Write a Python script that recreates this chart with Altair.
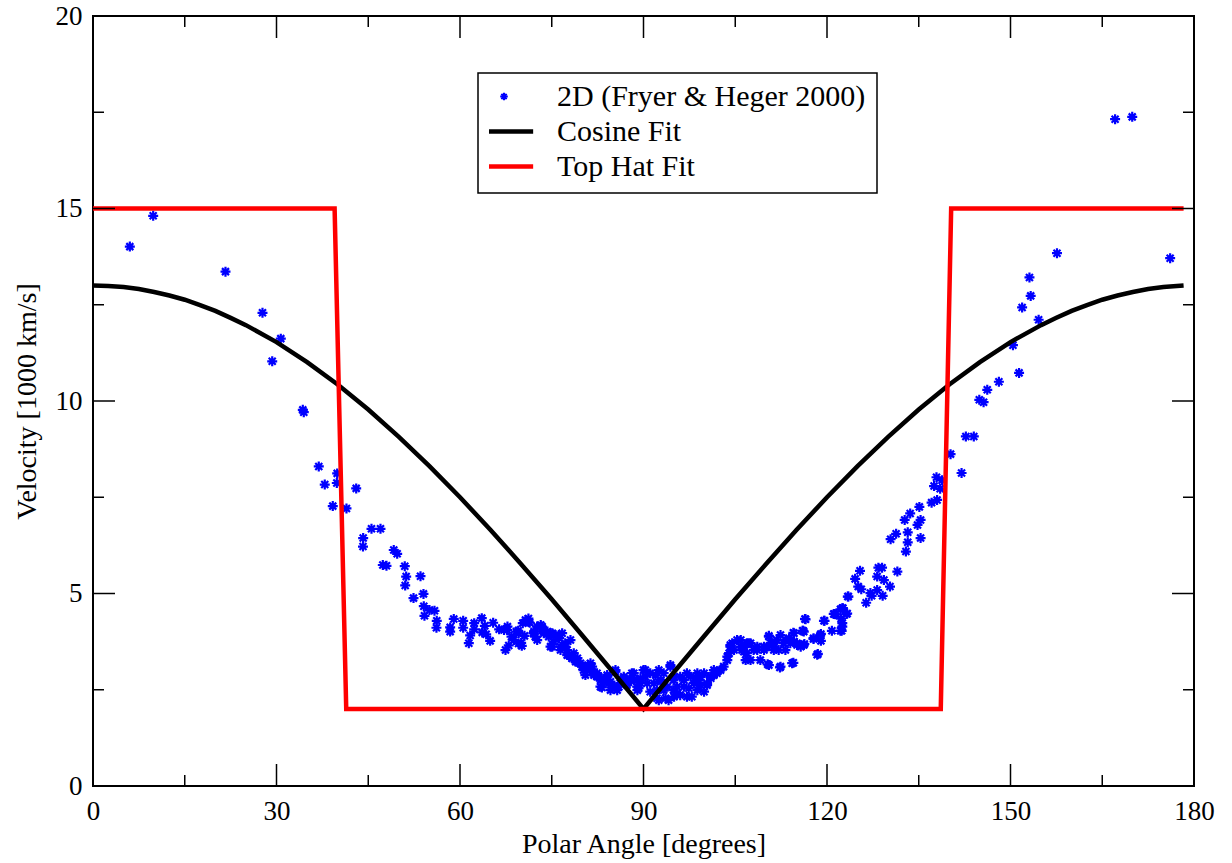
import altair as alt
import pandas as pd

# ---------------- data ----------------
SCATTER_ANGLE = [
    6.02, 9.84, 21.66, 27.71, 29.30, 30.70, 34.30, 34.46, 36.91, 37.89, 39.20, 39.86, 39.92, 41.44, 43.03,
    44.14, 44.17, 45.53, 47.00, 47.38, 47.98, 49.17, 49.73, 50.97, 51.04, 51.20, 52.40, 53.54, 54.03, 54.08,
    54.19, 55.01, 55.83, 56.15, 56.20, 58.39, 58.39, 58.98, 60.52, 60.52, 61.44, 61.66, 62.32, 62.32, 63.56,
    63.63, 64.05, 64.28, 64.93, 65.42, 66.40, 67.2, 67.44, 67.71, 67.76, 67.97, 68.42, 68.8, 69.2, 69.51,
    69.56, 69.6, 70.0, 70.10, 70.26, 70.54, 70.7, 71.19, 71.24, 71.4,
    72.01, 72.1, 72.3, 72.6, 72.62, 73.2, 73.43, 73.4, 73.70, 73.7, 74.3, 74.5, 74.79, 74.8, 75.07,
    75.1, 75.3, 75.6, 76.15, 76.2, 76.43, 76.4, 76.7, 77.24, 77.2, 77.52, 77.5, 77.8, 78.06, 78.34,
    78.3, 78.6, 78.9, 79.16, 79.2, 79.7, 79.97, 80.0, 80.2, 80.5, 80.79, 80.9, 81.3, 81.33, 81.6,
    81.6, 81.87, 81.9, 82.4, 82.4, 82.69, 82.96, 83.0, 83.2, 83.5, 83.5, 84.06, 84.1, 84.3, 84.6,
    84.6, 85.2, 85.42, 85.4, 85.7, 85.96, 86.2, 86.77, 86.8, 87.3, 87.3, 87.87, 87.9, 88.1, 88.41,
    88.4, 88.96, 88.96, 89.0, 89.2, 89.5, 89.5,
    90.0, 90.3, 90.3, 90.6, 91.1, 91.1, 91.7, 92.0, 92.2, 92.2, 92.5, 92.5, 92.8, 92.8, 93.3,
    93.3, 93.6, 93.9, 94.1, 94.4, 94.4, 94.9, 94.9, 95.0, 95.0, 95.5, 95.5, 96.0, 96.0, 96.6,
    96.6, 97.1, 97.1, 97.4, 97.7, 97.9, 98.2, 98.5, 98.8, 98.8, 99.0, 99.3, 99.3, 99.9, 99.9,
    100.4, 100.4, 100.9, 101.0, 101.5, 101.5, 102.0, 102.0, 102.6, 103.1, 103.7, 103.7, 104.0, 104.2, 104.2,
    104.5, 104.8, 105.3, 105.9, 105.9, 106.1, 106.4, 106.4, 106.7, 106.9, 106.9,
    107.2, 107.5, 107.5, 108.0, 108.6, 108.6, 109.1, 109.7, 109.7, 110.2, 110.3, 110.5, 110.5, 110.5, 110.8,
    111.3, 111.3, 111.3, 111.8, 112.1, 112.3, 112.4, 112.4, 112.9, 113.2, 113.2, 113.8, 114.0, 114.3, 114.5,
    114.5, 114.6, 114.6, 115.1, 115.1, 115.7, 116.0, 116.1, 116.2, 116.2, 116.3, 116.4, 116.5, 117.8, 117.8,
    118.4, 118.5, 118.9, 119.0, 119.0, 119.5, 119.6, 120.8, 121.1, 121.2, 121.4, 122.2, 122.2, 122.3, 122.4,
    122.5, 122.5, 122.5, 122.6, 123.2, 123.3, 123.4, 123.5,
    124.6, 125.1, 125.4, 125.6, 126.4, 127.1, 127.3, 128.2, 128.2, 128.4, 129.0, 129.1, 129.3, 130.3, 130.4,
    131.3, 131.5, 132.7, 132.9, 133.2, 133.2, 133.6, 134.8, 135.1, 135.3, 135.3, 137.1, 137.5, 137.9, 138.0,
    138.5, 138.8, 140.2, 142.0, 142.7, 144.0, 144.9, 145.6, 146.2, 148.1, 150.4, 151.4, 151.9, 153.1, 153.3,
    154.6, 157.6, 167.1, 169.9, 176.1,
]
SCATTER_VELOCITY = [
    14.01, 14.81, 13.36, 12.29, 11.03, 11.62, 9.77, 9.71, 8.30, 7.83, 7.27, 7.87, 8.12, 7.21, 7.73,
    6.22, 6.44, 6.68, 6.68, 5.74, 5.72, 6.13, 6.03, 5.71, 5.21, 5.44, 4.88, 5.45, 4.99, 4.67,
    4.42, 4.57, 4.55, 4.11, 4.29, 4.12, 4.01, 4.34, 4.29, 4.11, 3.71, 3.91, 4.23, 4.07, 4.36,
    3.99, 4.16, 3.94, 3.77, 4.24, 4.07, 4.05, 3.53, 4.05, 4.14, 3.65, 3.88, 3.79, 4.01, 4.03,
    3.70, 3.97, 3.72, 3.64, 4.23, 3.90, 4.31, 4.35, 4.26, 4.24,
    3.97, 4.01, 3.88, 4.14, 3.79, 4.18, 4.14, 4.10, 4.01, 3.97, 4.01, 3.88, 3.97, 3.62, 3.62,
    3.97, 3.75, 3.92, 3.92, 3.84, 3.53, 3.62, 3.97, 3.62, 3.71, 3.40, 3.53, 3.40, 3.79, 3.32,
    3.32, 3.45, 3.23, 3.23, 3.32, 3.19, 3.10, 3.10, 3.01, 2.88, 3.01, 3.14, 3.10, 3.19, 2.97,
    3.10, 2.93, 2.88, 2.84, 2.93, 2.84, 2.58, 2.75, 2.56, 2.75, 2.71, 2.88, 2.84, 2.67, 2.71,
    2.49, 2.58, 3.01, 2.97, 2.49, 2.58, 2.67, 2.84, 2.80, 2.62, 2.67, 2.75, 2.75, 2.93, 2.93,
    2.75, 2.58, 2.75, 2.49, 2.54, 2.67, 2.80,
    3.01, 2.84, 3.01, 2.67, 2.93, 2.45, 2.67, 2.88, 2.49, 2.28, 2.23, 3.01, 2.75, 2.71, 2.93,
    2.49, 2.28, 2.58, 2.23, 3.10, 3.14, 2.75, 2.49, 2.84, 2.32, 2.41, 2.58, 2.84, 2.36, 2.58,
    2.75, 2.32, 2.93, 2.54, 2.84, 2.32, 2.67, 2.80, 2.49, 2.93, 2.75, 2.84, 2.62, 2.93, 2.45,
    2.67, 2.62, 2.84, 2.80, 3.01, 2.88, 2.93, 2.97, 3.01, 3.10, 3.36, 3.27, 3.45, 3.62, 3.66,
    3.71, 3.53, 3.79, 3.79, 3.62, 3.53, 3.49, 3.62, 3.27, 3.71, 3.45,
    3.71, 3.27, 3.71, 3.53, 3.53, 3.62, 3.27, 3.62, 3.53, 3.62, 3.16, 3.88, 3.14, 3.90, 3.71,
    3.62, 3.71, 3.53, 3.79, 3.53, 3.08, 3.92, 3.10, 3.71, 3.79, 3.53, 3.84, 3.71, 3.19, 3.98,
    3.20, 3.75, 3.97, 3.71, 3.66, 3.62, 4.03, 4.03, 4.01, 3.66, 3.69, 4.34, 4.33, 3.82, 3.84,
    3.41, 3.43, 3.92, 3.95, 3.77, 4.29, 4.29, 4.03, 4.47, 4.47, 4.46, 4.59, 4.03, 4.35, 4.03,
    4.23, 4.62, 4.14, 4.62, 4.47, 4.48, 4.92, 4.92,
    5.38, 5.18, 5.59, 5.11, 4.76, 5.01, 4.94, 5.44, 5.09, 5.67, 5.67, 4.94, 5.35, 5.18, 6.41,
    6.55, 5.57, 6.91, 6.09, 6.59, 6.33, 7.08, 6.78, 7.25, 6.91, 6.44, 7.36, 7.79, 8.02, 7.43,
    7.72, 7.94, 8.62, 8.13, 9.08, 9.08, 10.03, 9.97, 10.29, 10.50, 11.45, 10.73, 12.43, 13.21, 12.73,
    12.11, 13.84, 17.32, 17.38, 13.71,
]

COS_ANGLE = [0, 2.5, 5, 7.5, 10, 12.5, 15, 17.5, 20, 22.5, 25, 30, 35, 40, 45, 50, 55, 60, 65, 70, 75,
             80, 85, 90, 95, 100, 105, 110, 115, 120, 125, 130, 135, 140, 145, 150, 155, 157.5, 160,
             162.5, 165, 167.5, 170, 172.5, 175, 178.3]
COS_VELOCITY = [13.00, 12.99, 12.96, 12.91, 12.83, 12.74, 12.63, 12.49, 12.34, 12.16, 11.97, 11.53,
                11.01, 10.43, 9.78, 9.07, 8.31, 7.50, 6.65, 5.76, 4.85, 3.91, 2.96, 2.00, 2.96, 3.91,
                4.85, 5.76, 6.65, 7.50, 8.31, 9.07, 9.78, 10.43, 11.01, 11.53, 11.97, 12.16, 12.34,
                12.49, 12.63, 12.74, 12.83, 12.91, 12.96, 13.00]

HAT_ANGLE = [0, 39.5, 41.4, 138.6, 140.3, 178.3]
HAT_VELOCITY = [15, 15, 2, 2, 15, 15]

SERIES = ["2D (Fryer & Heger 2000)", "Cosine Fit", "Top Hat Fit"]
COLORS = ["#0000ff", "#000000", "#ff0000"]

X_MAJOR = [0, 30, 60, 90, 120, 150, 180]
X_MINOR = [15, 45, 75, 105, 135, 165]
Y_MAJOR = [0, 5, 10, 15, 20]
Y_MINOR = [2.5, 7.5, 12.5, 17.5]

# ---------------- layout / style ----------------
W, H = 1101, 770
FONT = "Liberation Serif, Times New Roman, Times, DejaVu Serif, serif"
MAJ, MIN = 22, 11
STAR = "M-1,0L1,0M0,-1L0,1M-0.7,-0.7L0.7,0.7M-0.7,0.7L0.7,-0.7"
STAR_LEG = "M-0.13,0L0.13,0M0,-0.13L0,0.13M-0.09,-0.09L0.09,0.09M-0.09,0.09L0.09,-0.09"

scatter_df = pd.DataFrame({"angle": SCATTER_ANGLE, "velocity": SCATTER_VELOCITY, "series": SERIES[0]})
cos_df = pd.DataFrame({"angle": COS_ANGLE, "velocity": COS_VELOCITY, "series": SERIES[1]})
hat_df = pd.DataFrame({"angle": HAT_ANGLE, "velocity": HAT_VELOCITY, "series": SERIES[2]})

xscale = alt.Scale(domain=[0, 180], nice=False, zero=False)
yscale = alt.Scale(domain=[0, 20], nice=False, zero=False)

test = "datum.value === '" + SERIES[0] + "'"
legend = alt.Legend(
    orient="none", legendX=385, legendY=57, title=None, direction="vertical",
    labelFont=FONT, labelFontSize=30, labelColor="black", labelLimit=600,
    symbolSize=3400,
    symbolType={"expr": test + " ? '" + STAR_LEG + "' : 'stroke'"},
    symbolStrokeWidth={"expr": test + " ? 2 : 4.5"},
    clipHeight=25, rowPadding=4, labelOffset=38, padding=11,
    strokeColor="black", fillColor="white",
)
color = alt.Color("series:N", scale=alt.Scale(domain=SERIES, range=COLORS), legend=legend)

xaxis = alt.Axis(values=X_MAJOR, title="Polar Angle [degrees]", ticks=False, domain=False, grid=False,
                 labelFont=FONT, labelFontSize=27, labelColor="black", labelPadding=12, labelFlush=False,
                 titleFont=FONT, titleFontSize=28, titleFontWeight="normal", titleColor="black", titlePadding=6)
yaxis = alt.Axis(values=Y_MAJOR, title="Velocity [1000 km/s]", ticks=False, domain=False, grid=False,
                 labelFont=FONT, labelFontSize=27, labelColor="black", labelPadding=11, labelFlush=False,
                 titleFont=FONT, titleFontSize=28, titleFontWeight="normal", titleColor="black", titlePadding=14)

X = alt.X("angle:Q", scale=xscale, axis=xaxis)
Y = alt.Y("velocity:Q", scale=yscale, axis=yaxis)

points = alt.Chart(scatter_df).mark_point(shape=STAR, size=100, filled=False, strokeWidth=2.2, opacity=1).encode(
    x=X, y=Y, color=color,
)
cos_line = alt.Chart(cos_df).mark_line(strokeWidth=4.5).encode(x=X, y=Y, color=color)
hat_line = alt.Chart(hat_df).mark_line(strokeWidth=4.5, strokeJoin="miter").encode(x=X, y=Y, color=color)


def xticks(vals, y0, y1):
    return alt.Chart(pd.DataFrame({"angle": vals})).mark_rule(color="black", strokeWidth=1.5).encode(
        x=X, y=alt.value(y0), y2=alt.value(y1))


def yticks(vals, x0, x1):
    return alt.Chart(pd.DataFrame({"velocity": vals})).mark_rule(color="black", strokeWidth=1.5).encode(
        y=Y, x=alt.value(x0), x2=alt.value(x1))


ticks = [
    xticks(X_MAJOR, H, H - MAJ), xticks(X_MINOR, H, H - MIN),
    xticks(X_MAJOR, 0, MAJ), xticks(X_MINOR, 0, MIN),
    yticks(Y_MAJOR, 0, MAJ), yticks(Y_MINOR, 0, MIN),
    yticks(Y_MAJOR, W, W - MAJ), yticks(Y_MINOR, W, W - MIN),
]

chart = (
    alt.layer(points, cos_line, hat_line, *ticks)
    .properties(
        width=W, height=H,
        autosize=alt.AutoSizeParams(type="none"),
        padding={"left": 93, "top": 16, "right": 38, "bottom": 77},
        background="white",
    )
    .configure(font=FONT)
    .configure_view(stroke="black", strokeWidth=2)
    .configure_legend(strokeWidth=1.5)
)

chart.save("out.html", embed_options={"renderer": "svg", "actions": False})
